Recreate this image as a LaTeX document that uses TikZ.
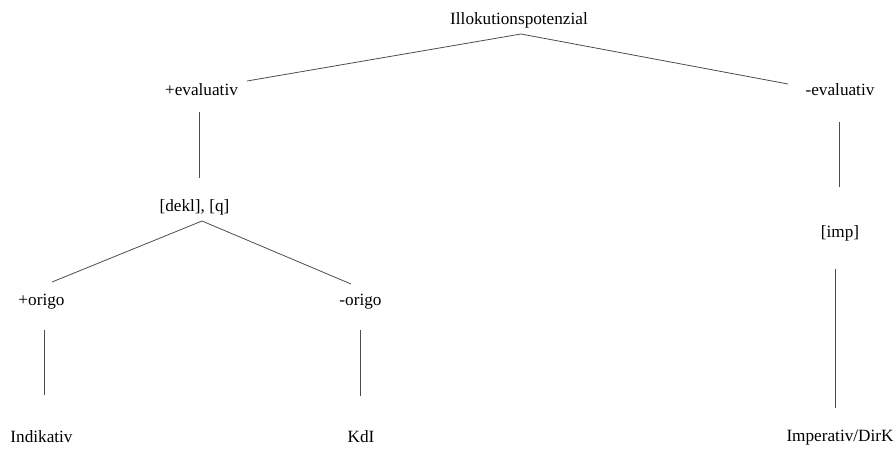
\documentclass[tikz,border=0pt]{standalone}
\usepackage{fontspec}
\setmainfont{Liberation Serif}
\begin{document}
\begin{tikzpicture}[x=1pt,y=-1pt,
  lbl/.style={anchor=base,inner sep=0pt,font=\fontsize{17.2}{20}\selectfont},
  branch/.style={draw=black!70,line width=0.8pt}]
\useasboundingbox (0,0) rectangle (894,448);
% labels of the tree
\node[lbl] (root) at (519,24)  {Illokutionspotenzial};
\node[lbl] (pe)   at (201.5,95) {+evaluativ};
\node[lbl] (me)   at (840,95)  {-evaluativ};
\node[lbl] (dq)   at (194.5,211) {[dekl], [q]};
\node[lbl] (imp)  at (840,237) {[imp]};
\node[lbl] (po)   at (41.5,305) {+origo};
\node[lbl] (mo)   at (360.5,305) {-origo};
\node[lbl] (ind)  at (41.5,442) {Indikativ};
\node[lbl] (kdi)  at (361,442) {KdI};
\node[lbl] (idk)  at (840,441) {Imperativ/DirK};
% end points of the branches
\coordinate (root-s) at (521,34);
\coordinate (pe-n)   at (247,81);
\coordinate (me-n)   at (788,84);
\coordinate (pe-s)   at (199.5,112);
\coordinate (dq-n)   at (199.5,178);
\coordinate (dq-s)   at (202,221);
\coordinate (po-n)   at (52,282);
\coordinate (mo-n)   at (351,284);
\coordinate (po-s)   at (44,330);
\coordinate (ind-n)  at (44,395);
\coordinate (mo-s)   at (360,330);
\coordinate (kdi-n)  at (360,396);
\coordinate (me-s)   at (839,122);
\coordinate (imp-n)  at (839,187);
\coordinate (imp-s)  at (835,269);
\coordinate (idk-n)  at (835,408);
% branches
\draw[branch] (pe-n) -- (root-s) -- (me-n);
\draw[branch] (pe-s) -- (dq-n);
\draw[branch] (po-n) -- (dq-s) -- (mo-n);
\draw[branch] (po-s) -- (ind-n);
\draw[branch] (mo-s) -- (kdi-n);
\draw[branch] (me-s) -- (imp-n);
\draw[branch] (imp-s) -- (idk-n);
\end{tikzpicture}
\end{document}
